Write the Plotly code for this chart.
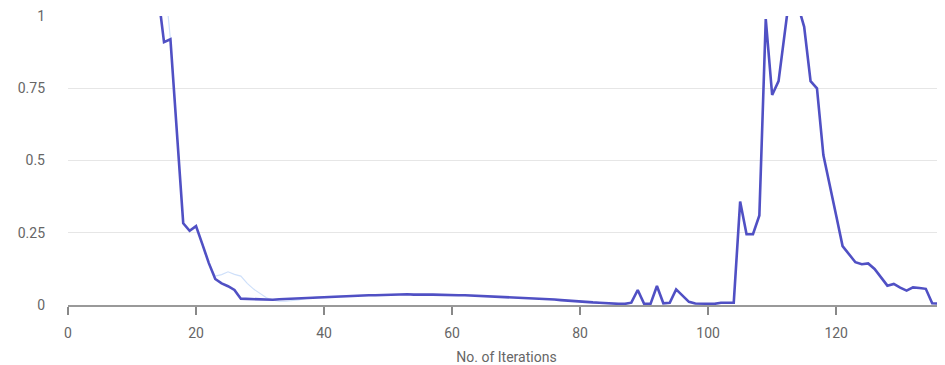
import plotly.graph_objects as go

iterations = list(range(0, 137))

loss_main = [
    2.9, 2.7, 2.6, 2.4, 2.2, 2.1, 1.9, 1.8, 1.7, 1.55,
    1.45, 1.35, 1.25, 1.18, 1.09, 0.91, 0.92, 0.6, 0.283, 0.257,
    0.273, 0.21, 0.145, 0.09, 0.075, 0.065, 0.052, 0.022, 0.021, 0.02,
    0.018, 0.017, 0.018, 0.02, 0.021, 0.022, 0.024, 0.026, 0.027, 0.028,
    0.029, 0.03, 0.031, 0.031, 0.032, 0.033, 0.033, 0.034, 0.034, 0.035,
    0.036, 0.035, 0.036, 0.037, 0.036, 0.037, 0.036, 0.036, 0.035, 0.036,
    0.035, 0.034, 0.034, 0.033, 0.032, 0.032, 0.031, 0.03, 0.029, 0.028,
    0.027, 0.026, 0.024, 0.023, 0.022, 0.02, 0.019, 0.017, 0.015, 0.013,
    0.012, 0.011, 0.009, 0.008, 0.006, 0.005, 0.004, 0.004, 0.008, 0.052,
    0.004, 0.004, 0.066, 0.006, 0.008, 0.054, 0.031, 0.011, 0.005, 0.004,
    0.004, 0.004, 0.008, 0.007, 0.008, 0.358, 0.245, 0.245, 0.31, 0.99,
    0.727, 0.775, 0.93, 1.12, 1.04, 0.963, 0.775, 0.75, 0.519, 0.42,
    0.31, 0.204, 0.175, 0.148, 0.141, 0.144, 0.125, 0.095, 0.067, 0.073,
    0.06, 0.05, 0.061, 0.059, 0.056, 0.006, 0.005,
]

loss_light = [
    2.9, 2.7, 2.6, 2.4, 2.2, 2.1, 1.9, 1.8, 1.7, 1.55,
    1.45, 1.35, 1.3, 1.25, 1.2, 1.15, 0.92, 0.6, 0.283, 0.257,
    0.273, 0.21, 0.145, 0.1, 0.105, 0.115, 0.106, 0.1, 0.075, 0.055,
    0.04, 0.025, 0.017, 0.013, 0.013, 0.015, 0.018, 0.022, 0.026, 0.028,
    0.029, 0.03, 0.031, 0.031, 0.032, 0.033, 0.033, 0.034, 0.034, 0.035,
    0.036, 0.035, 0.036, 0.037, 0.036, 0.037, 0.036, 0.036, 0.035, 0.036,
    0.035, 0.034, 0.034, 0.033, 0.032, 0.032, 0.031, 0.03, 0.029, 0.028,
    0.027, 0.026, 0.024, 0.023, 0.022, 0.02, 0.019, 0.017, 0.015, 0.013,
    0.012, 0.011, 0.009, 0.008, 0.006, 0.005, 0.004, 0.004, 0.008, 0.052,
    0.004, 0.004, 0.066, 0.006, 0.008, 0.054, 0.031, 0.011, 0.005, 0.004,
    0.004, 0.004, 0.008, 0.007, 0.008, 0.358, 0.245, 0.245, 0.31, 0.99,
    0.727, 0.775, 0.93, 1.12, 1.04, 0.963, 0.775, 0.75, 0.519, 0.42,
    0.31, 0.204, 0.175, 0.148, 0.141, 0.144, 0.125, 0.095, 0.067, 0.073,
    0.06, 0.05, 0.061, 0.059, 0.056, 0.006, 0.005,
]

y_ticks = [0, 0.25, 0.5, 0.75, 1]
y_tick_labels = ["0", "0.25", "0.5", "0.75", "1"]
x_ticks = [0, 20, 40, 60, 80, 100, 120]

fig = go.Figure()
fig.add_trace(go.Scatter(
    x=iterations, y=loss_light, mode="lines",
    line=dict(color="#cfe0fa", width=1.2),
    showlegend=False, hoverinfo="skip",
))
fig.add_trace(go.Scatter(
    x=iterations, y=loss_main, mode="lines",
    line=dict(color="#5050c4", width=2.6),
    showlegend=False,
))

fig.update_layout(
    width=945, height=365,
    margin=dict(l=60, r=8, t=8, b=68, autoexpand=False),
    plot_bgcolor="white", paper_bgcolor="white",
    font=dict(family="Roboto, Arial, sans-serif", size=14, color="#666666"),
    xaxis=dict(
        range=[0, 137], tickvals=x_ticks, showgrid=False, zeroline=False,
        showline=True, linecolor="#999999", linewidth=1.5,
        ticks="outside", ticklen=8, tickcolor="#888888", tickwidth=1.5,
        ticklabelstandoff=6,
        title=dict(text="No. of Iterations", font=dict(size=14, color="#666666"), standoff=13),
        tickfont=dict(size=14, color="#666666"),
    ),
    yaxis=dict(
        range=[0, 1.0005], tickvals=y_ticks, ticktext=y_tick_labels,
        showgrid=True, gridcolor="#e6e6e6", gridwidth=1, zeroline=False,
        showline=False, ticks="", ticklabelstandoff=22,
        ticklabeloverflow="allow",
        tickfont=dict(size=14, color="#666666"),
    ),
)

fig.write_html("out.html")
